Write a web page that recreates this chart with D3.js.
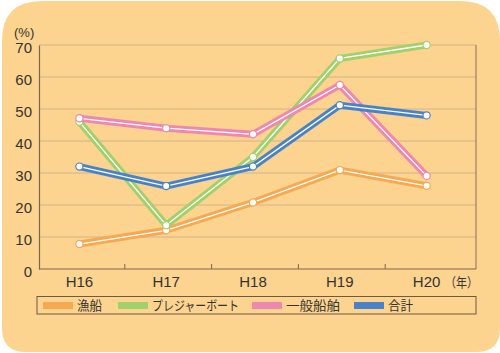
<!DOCTYPE html>
<html>
<head>
<meta charset="utf-8">
<script src="https://cdn.jsdelivr.net/npm/d3@7"></script>
<style>
  body { margin: 0; background: #fff; }
  svg { display: block; }
</style>
</head>
<body>
<div id="chart"></div>
<script>
// data
const years = ["H16", "H17", "H18", "H19", "H20"];
const seriesNames = ["漁船", "プレジャーボート", "一般船舶", "合計"];
const gyosen = [7.8, 12.1, 20.8, 30.9, 26.0];
const pleasure = [46.0, 13.7, 35.0, 65.8, 70.0];
const ippan = [47.1, 44.0, 42.1, 57.5, 29.1];
const goukei = [32.0, 25.9, 32.0, 51.2, 48.0];
const yTicks = [0, 10, 20, 30, 40, 50, 60, 70];

const colors = ["#F7A850", "#A2D06C", "#EE88AF", "#4A82C8"];
const allSeries = [gyosen, pleasure, ippan, goukei];

const W = 500, H = 353;
const svg = d3.select("#chart").append("svg")
    .attr("width", W)
    .attr("height", H);

// background panel, rounded on all corners (bigger on top)
const bx = 2, by = 1, bw = 498, bh = 351;
const rTop = 40, rBot = 24;
svg.append("path")
    .attr("d", `M${bx},${by + rTop} Q${bx},${by} ${bx + rTop},${by} L${bx + bw - rTop},${by} Q${bx + bw},${by} ${bx + bw},${by + rTop}
      L${bx + bw},${by + bh - rBot} Q${bx + bw},${by + bh} ${bx + bw - rBot},${by + bh} L${bx + rBot},${by + bh} Q${bx},${by + bh} ${bx},${by + bh - rBot} Z`)
    .attr("fill", "#FDD48F");

const x = d3.scaleBand()
    .domain(years)
    .range([38, 472]);

const y = d3.scaleLinear()
    .domain([0, 70])
    .range([269, 45]);

const left = 39, right = 476;
const fontNum = "'Liberation Sans', Arial, sans-serif";
const fontJa = "'Noto Sans CJK JP', sans-serif";

// gridlines
svg.append("g")
    .selectAll("line")
    .data(yTicks.filter(d => d > 0))
    .enter().append("line")
    .attr("x1", left)
    .attr("x2", right)
    .attr("y1", d => y(d))
    .attr("y2", d => y(d))
    .attr("stroke", "#CDB48A")
    .attr("stroke-width", 1);

// right frame line
svg.append("line")
    .attr("x1", right).attr("x2", right)
    .attr("y1", y(70)).attr("y2", y(0))
    .attr("stroke", "#9A8062")
    .attr("stroke-width", 1.2);

// y axis
const yAxis = svg.append("g")
    .attr("transform", `translate(${left},0)`)
    .call(d3.axisLeft(y).tickValues(yTicks).tickSize(0).tickPadding(7));
yAxis.select(".domain").attr("stroke", "#7A6650").attr("stroke-width", 1.2);
yAxis.selectAll("text")
    .attr("dy", "0.62em")
    .attr("y", -2)
    .style("font-family", fontNum)
    .style("font-size", "15px")
    .attr("fill", "#333");

// x axis
const xAxis = svg.append("g")
    .attr("transform", `translate(0,${y(0)})`)
    .call(d3.axisBottom(x).tickSize(0).tickPadding(7));
xAxis.select(".domain").remove();
svg.append("line")
    .attr("x1", left).attr("x2", right)
    .attr("y1", y(0)).attr("y2", y(0))
    .attr("stroke", "#7A6650")
    .attr("stroke-width", 1.2);
xAxis.selectAll("text")
    .attr("dx", -2)
    .style("font-family", fontNum)
    .style("font-size", "15px")
    .attr("fill", "#333");

// tick marks between categories
svg.append("g")
    .selectAll("line")
    .data(years.slice(1))
    .enter().append("line")
    .attr("x1", d => x(d))
    .attr("x2", d => x(d))
    .attr("y1", y(0) - 5)
    .attr("y2", y(0))
    .attr("stroke", "#7A6650")
    .attr("stroke-width", 1);

// unit labels
svg.append("text")
    .attr("x", 14).attr("y", 37)
    .style("font-family", fontNum)
    .style("font-size", "13px")
    .attr("fill", "#333")
    .text("(%)");
svg.append("text")
    .attr("x", 445).attr("y", 287)
    .attr("textLength", 33)
    .attr("lengthAdjust", "spacingAndGlyphs")
    .style("font-family", fontJa)
    .style("font-size", "13px")
    .attr("fill", "#333")
    .text("（年）");

const px = d => x(d) + x.bandwidth() / 2 - 2;

const line = d3.line()
    .x((d, i) => px(years[i]))
    .y(d => y(d));

// orange, green, pink, blue -- blue ends up on top
allSeries.forEach((vals, k) => {
    const g = svg.append("g");
    g.append("path")
        .datum(vals)
        .attr("d", line)
        .attr("fill", "none")
        .attr("stroke", colors[k])
        .attr("stroke-width", 7)
        .attr("stroke-linejoin", "round")
        .attr("stroke-linecap", "round");
    g.append("path")
        .datum(vals)
        .attr("d", line)
        .attr("fill", "none")
        .attr("stroke", "#fff")
        .attr("stroke-width", 1.3);
    g.selectAll("circle")
        .data(vals)
        .enter().append("circle")
        .attr("cx", (d, i) => px(years[i]))
        .attr("cy", d => y(d))
        .attr("r", 3.6)
        .attr("fill", "#fff")
        .attr("stroke", colors[k])
        .attr("stroke-width", 1.2);
});

// legend
const legend = svg.append("g");
legend.append("rect")
    .attr("x", 37).attr("y", 296.5)
    .attr("width", 439).attr("height", 17.5)
    .attr("fill", "none")
    .attr("stroke", "#6E5A40")
    .attr("stroke-width", 1);

const legendX = [43, 118, 252, 354];
const legendLen = [25, 87, 54, 25];
seriesNames.forEach((name, k) => {
    legend.append("rect")
        .attr("x", legendX[k]).attr("y", 302)
        .attr("width", 30).attr("height", 7)
        .attr("fill", colors[k]);
    legend.append("text")
        .attr("x", legendX[k] + 34).attr("y", 310)
        .attr("textLength", legendLen[k])
        .attr("lengthAdjust", "spacingAndGlyphs")
        .style("font-family", fontJa)
        .style("font-size", "13px")
        .attr("fill", "#333")
        .text(name);
});
</script>
</body>
</html>
